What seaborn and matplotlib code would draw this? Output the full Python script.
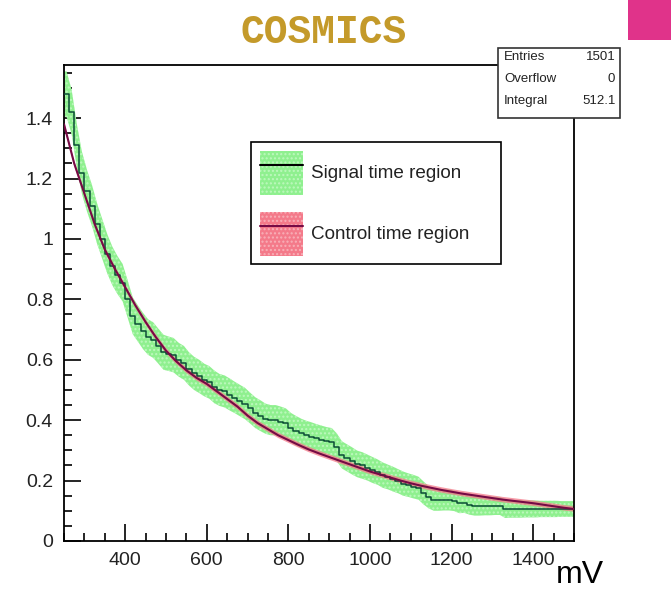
import numpy as np
import pandas as pd
import matplotlib
matplotlib.use("Agg")
import matplotlib.pyplot as plt
from matplotlib.patches import Patch, Rectangle
from matplotlib.lines import Line2D
from matplotlib.ticker import MultipleLocator, FuncFormatter
import seaborn as sns

# ---- data -------------------------------------------------------------
# signal histogram: 100 bins of 12.5 mV between 250 and 1500 mV
signal_range = (250, 1500)
signal_nbins = 100
signal_values = [
    1.48, 1.42, 1.31, 1.22, 1.16, 1.11, 1.05, 1.00, 0.95, 0.91,
    0.88, 0.855, 0.80, 0.745, 0.72, 0.695, 0.675, 0.665, 0.645, 0.625,
    0.62, 0.615, 0.60, 0.59, 0.57, 0.555, 0.545, 0.533, 0.525, 0.51,
    0.50, 0.495, 0.485, 0.475, 0.465, 0.455, 0.44, 0.425, 0.415, 0.405,
    0.40, 0.40, 0.395, 0.39, 0.375, 0.365, 0.357, 0.35, 0.345, 0.34,
    0.335, 0.33, 0.328, 0.31, 0.285, 0.275, 0.265, 0.255, 0.25, 0.243,
    0.235, 0.228, 0.218, 0.212, 0.205, 0.198, 0.19, 0.185, 0.18, 0.175,
    0.159, 0.145, 0.136, 0.136, 0.136, 0.136, 0.133, 0.126, 0.126, 0.12,
    0.116, 0.116, 0.116, 0.116, 0.116, 0.116, 0.106, 0.106, 0.106, 0.106,
    0.106, 0.106, 0.106, 0.106, 0.106, 0.106, 0.106, 0.106, 0.106, 0.106,
]
signal_errors = [
    0.075, 0.074, 0.072, 0.07, 0.069, 0.068, 0.067, 0.066, 0.065, 0.064,
    0.063, 0.062, 0.062, 0.061, 0.06, 0.06, 0.059, 0.059, 0.058, 0.058,
    0.057, 0.057, 0.056, 0.056, 0.055, 0.055, 0.055, 0.054, 0.054, 0.054,
    0.053, 0.053, 0.053, 0.052, 0.052, 0.052, 0.051, 0.051, 0.051, 0.05,
    0.05, 0.05, 0.05, 0.049, 0.049, 0.049, 0.048, 0.048, 0.048, 0.047,
    0.047, 0.047, 0.046, 0.046, 0.045, 0.045, 0.045, 0.044, 0.044, 0.043,
    0.043, 0.042, 0.042, 0.041, 0.041, 0.04, 0.04, 0.039, 0.039, 0.038,
    0.038, 0.037, 0.036, 0.036, 0.035, 0.035, 0.034, 0.034, 0.033, 0.033,
    0.032, 0.032, 0.031, 0.031, 0.03, 0.03, 0.03, 0.029, 0.029, 0.029,
    0.028, 0.028, 0.028, 0.027, 0.027, 0.027, 0.027, 0.026, 0.026, 0.026,
]

# control time region, sampled along the mV axis
control_x = [250, 275, 300, 325, 350, 375, 400, 425, 450, 475,
             500, 525, 550, 575, 600, 625, 650, 675, 700, 725,
             750, 775, 800, 825, 850, 875, 900, 925, 950, 975,
             1000, 1025, 1050, 1075, 1100, 1125, 1150, 1175, 1200, 1225,
             1250, 1275, 1300, 1325, 1350, 1375, 1400, 1425, 1450, 1475, 1500]
control_values = [1.38, 1.25, 1.15, 1.05, 0.965, 0.90, 0.84, 0.78, 0.725, 0.675,
                  0.63, 0.595, 0.565, 0.54, 0.52, 0.495, 0.47, 0.445, 0.415, 0.39,
                  0.37, 0.35, 0.334, 0.318, 0.303, 0.29, 0.278, 0.266, 0.254, 0.242,
                  0.23, 0.22, 0.21, 0.20, 0.191, 0.183, 0.176, 0.169, 0.163, 0.157,
                  0.152, 0.147, 0.142, 0.137, 0.133, 0.129, 0.125, 0.12, 0.115, 0.11, 0.106]
control_error = 0.009

legend_labels = ["Signal time region", "Control time region"]
stats_names = ["Entries", "Overflow", "Integral"]
stats_values = ["1501", "0", "512.1"]
title_text = "COSMICS"
x_unit = "mV"

# ---- styling ----------------------------------------------------------
sns.set_style("white")
plt.rcParams["font.family"] = ["Liberation Sans", "DejaVu Sans"]

GREEN_FILL = "#8ff08f"
GREEN_HATCH = "#bdf8bd"
GREEN_LINE = "#0b4d36"
RED_FILL = "#f47a8a"
RED_LINE = "#760a45"

fig = plt.figure(figsize=(6.71, 5.90), dpi=100)
ax = fig.add_axes([0.0954, 0.0831, 0.760, 0.8067])

signal_edges = np.linspace(signal_range[0], signal_range[1], signal_nbins + 1)
signal_centers = 0.5 * (signal_edges[:-1] + signal_edges[1:])

# signal uncertainty band, joined through the bin centres
band_x = np.concatenate([[signal_edges[0]], signal_centers, [signal_edges[-1]]])
band_v = np.concatenate([[signal_values[0]], signal_values, [signal_values[-1]]])
band_e = np.concatenate([[signal_errors[0]], signal_errors, [signal_errors[-1]]])
ax.fill_between(band_x, band_v - band_e, band_v + band_e,
                facecolor=GREEN_FILL, edgecolor=GREEN_HATCH, hatch="....",
                linewidth=0, zorder=1)

# control band
ctrl = np.asarray(control_values)
ax.fill_between(control_x, ctrl - control_error, ctrl + control_error,
                facecolor=RED_FILL, edgecolor="none", alpha=0.75, zorder=2)

sig_df = pd.DataFrame({"mV": signal_edges,
                       "value": np.append(signal_values, signal_values[-1])})
ctrl_df = pd.DataFrame({"mV": control_x, "value": control_values})
sns.lineplot(data=sig_df, x="mV", y="value", ax=ax, color=GREEN_LINE,
             linewidth=1.1, drawstyle="steps-post", zorder=3)
sns.lineplot(data=ctrl_df, x="mV", y="value", ax=ax, color=RED_LINE,
             linewidth=1.5, zorder=4)

ax.set_xlim(250, 1500)
ax.set_ylim(0, 1.576)
ax.set_xlabel("")
ax.set_ylabel("")

# ROOT-like frame and inward ticks on left/bottom only
for side in ["left", "bottom", "top", "right"]:
    ax.spines[side].set_color("black")
    ax.spines[side].set_linewidth(1.3)
ax.xaxis.set_major_locator(MultipleLocator(200))
ax.xaxis.set_minor_locator(MultipleLocator(50))
ax.yaxis.set_major_locator(MultipleLocator(0.2))
ax.yaxis.set_minor_locator(MultipleLocator(0.05))
ax.yaxis.set_major_formatter(FuncFormatter(lambda v, p: "%g" % round(v, 2)))
ax.tick_params(which="both", direction="in", top=False, right=False,
               left=True, bottom=True, colors="black", width=1.2)
ax.tick_params(which="major", length=12, labelsize=14, pad=8)
ax.tick_params(which="minor", length=6)
for lab in ax.get_xticklabels() + ax.get_yticklabels():
    lab.set_color("#222222")

# legend with hatched box + line
h_sig = (Patch(facecolor=GREEN_FILL, edgecolor=GREEN_HATCH, hatch="....", linewidth=0),
         Line2D([], [], color="black", linewidth=1.5))
h_ctrl = (Patch(facecolor=RED_FILL, edgecolor="#f8b0b8", hatch="....", linewidth=0),
          Line2D([], [], color=RED_LINE, linewidth=1.5))
leg = ax.legend([h_sig, h_ctrl], legend_labels,
                loc="upper left", bbox_to_anchor=(0.3667, 0.8373, 0.4902, 0.0),
                bbox_transform=ax.transAxes, mode="expand",
                fontsize=13.6, frameon=True, fancybox=False, framealpha=1,
                edgecolor="black", handlelength=2.3, handleheight=3.2,
                labelspacing=0.9, borderpad=0.45, handletextpad=0.45,
                borderaxespad=0)
leg.get_frame().set_linewidth(1.2)
for t in leg.get_texts():
    t.set_color("#222222")

# title
fig.text(0.483, 0.946, title_text, ha="center", va="center",
         fontsize=28.5, fontweight="bold", color="#c49a2a",
         family=["Liberation Mono", "DejaVu Sans Mono"])

# statistics box
box = Rectangle((0.742, 0.800), 0.182, 0.1186, transform=fig.transFigure,
                facecolor="white", edgecolor="#333333", linewidth=1.2, zorder=5)
fig.patches.append(box)
row_y = [0.903, 0.866, 0.829]
for name, val, y in zip(stats_names, stats_values, row_y):
    fig.text(0.751, y, name, ha="left", va="center", fontsize=9.5, color="#222222", zorder=6)
    fig.text(0.917, y, val, ha="right", va="center", fontsize=9.5, color="#222222", zorder=6)

# corner marker
fig.patches.append(Rectangle((0.936, 0.932), 0.07, 0.07, transform=fig.transFigure,
                             facecolor="#e0338a", edgecolor="none", zorder=5))

# axis unit
fig.text(0.900, 0.0, x_unit, ha="right", va="bottom", fontsize=23, color="black")

fig.savefig("out.png", dpi=100)
